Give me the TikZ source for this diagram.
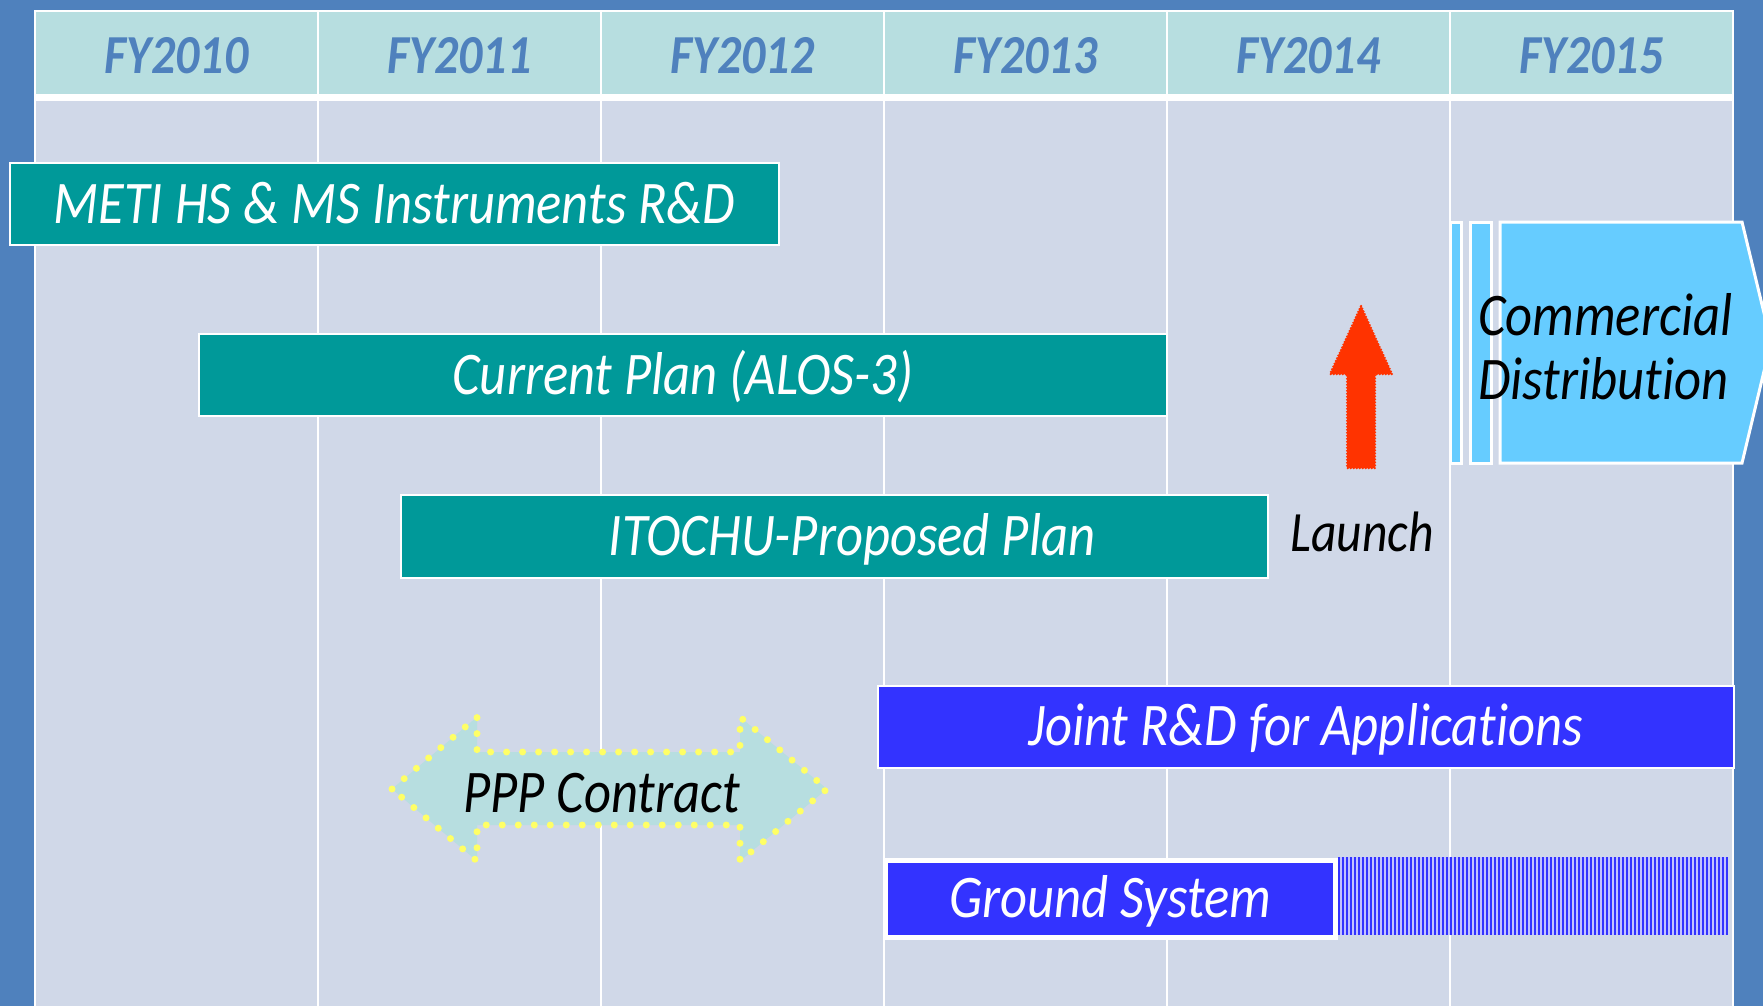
\documentclass[tikz,border=0pt]{standalone}
\usepackage{fontspec}
\setmainfont{Carlito}[FakeStretch=0.87, Ligatures={NoCommon,NoContextual}]
\definecolor{bgblue}{HTML}{4F81BD}
\definecolor{hdrfill}{HTML}{B7DEE0}
\definecolor{bodyfill}{HTML}{D0D8E8}
\definecolor{tealbar}{HTML}{009999}
\definecolor{jblue}{HTML}{3333FF}
\definecolor{ltblue}{HTML}{66CCFF}
\definecolor{launchred}{HTML}{FF3300}
\definecolor{dotyellow}{HTML}{FFFF66}
\newcommand\mytxtfont{\fontsize{60.5}{64}\selectfont\itshape}
\newcommand\myhdrfont{\fontsize{55}{60}\selectfont\bfseries\itshape}
\begin{document}
\begin{tikzpicture}[x=1pt,y=-1pt,
  barbox/.style={draw=white, line width=2pt, fill=tealbar, text=white, font=\mytxtfont,
    inner sep=0pt, anchor=north west, text height=38pt, text depth=0pt},
  hdrtxt/.style={font=\myhdrfont, text=bgblue, inner sep=0pt},
  plaintxt/.style={font=\mytxtfont, text=black, inner sep=0pt},
  cdshape/.style={draw=white, line width=3pt, fill=ltblue}]
\useasboundingbox (0,0) rectangle (1763,1006);
\clip (0,0) rectangle (1763,1006);
% background and table
\fill[bgblue] (0,0) rectangle (1763,1006);
\fill[hdrfill] (35,11) rectangle (1733,94);
\fill[bodyfill] (35,101) rectangle (1733,1006);
\fill[white] (35,94) rectangle (1733,101);
\draw[white, line width=2pt] (35,1006) -- (35,11) -- (1733,11) -- (1733,1006);
\foreach \x in {318,601,884,1167,1450}
  \draw[white, line width=2.5pt] (\x,11) -- (\x,1006);
% header
\node[hdrtxt] (fy10) at (176.5,56) {FY2010};
\node[hdrtxt] (fy11) at (459.5,56) {FY2011};
\node[hdrtxt] (fy12) at (742.5,56) {FY2012};
\node[hdrtxt] (fy13) at (1025.5,56) {FY2013};
\node[hdrtxt] (fy14) at (1308.5,56) {FY2014};
\node[hdrtxt] (fy15) at (1591.5,56) {FY2015};
% bars
\node[barbox, minimum width=769pt, minimum height=82pt] (meti) at (9,162) {METI HS \& MS Instruments R\&D};
\node[barbox, minimum width=968pt, minimum height=82pt] (current) at (198,333) {Current Plan (ALOS-3)};
\node[barbox, minimum width=867pt, minimum height=83pt] (itochu) at (400,494) {\hspace*{35pt}ITOCHU-Proposed Plan};
\node[barbox, fill=jblue, line width=1.5pt, minimum width=856pt, minimum height=82pt] (joint) at (877,685) {Joint R\&D for Applicat\kern0pt ions};
\node[barbox, fill=jblue, line width=5pt, minimum width=450pt, minimum height=77pt] (ground) at (882.5,857.5) {Ground System};
% hatched continuation of ground system
\fill[white!70!jblue] (1338,857) rectangle (1728,935);
\foreach \x in {1339,1343,...,1727}
  \draw[jblue, line width=2.4pt] (\x,857) -- (\x,935);
% launch arrow
\fill[launchred] (1361,306) -- (1392,374) -- (1375,374) -- (1375,468) -- (1347,468) -- (1347,374) -- (1330,374) -- cycle;
\draw[launchred, line width=2.5pt, dash pattern=on 0pt off 3pt, line cap=round]
  (1361,306) -- (1392,374) -- (1375,374) -- (1375,468) -- (1347,468) -- (1347,374) -- (1330,374) -- cycle;
\node[plaintxt, font=\fontsize{57}{60}\selectfont\itshape] (launch) at (1362,532) {Launch};
% commercial distribution
\draw[cdshape] (1450,222) rectangle (1461,463);
\draw[cdshape] (1470,222) rectangle (1491,463);
\draw[cdshape] (1500,222) -- (1742,222) -- (1771,342) -- (1742,463) -- (1500,463) -- cycle;
\node[plaintxt, align=left, anchor=west, font=\fontsize{60.5}{64}\selectfont\itshape] (comm) at (1478,347) {Commercial\\Distribut\kern0pt ion};
% PPP contract
\draw[fill=hdrfill, draw=dotyellow, line width=7pt, dash pattern=on 0pt off 16pt, line cap=round]
  (392,789) -- (477,717) -- (477,752) -- (740,752) -- (740,717) -- (827,789) -- (740,861) -- (740,825) -- (477,825) -- (477,861) -- cycle;
\node[plaintxt] (ppp) at (601.5,793) {PPP Contract};
\end{tikzpicture}
\end{document}
